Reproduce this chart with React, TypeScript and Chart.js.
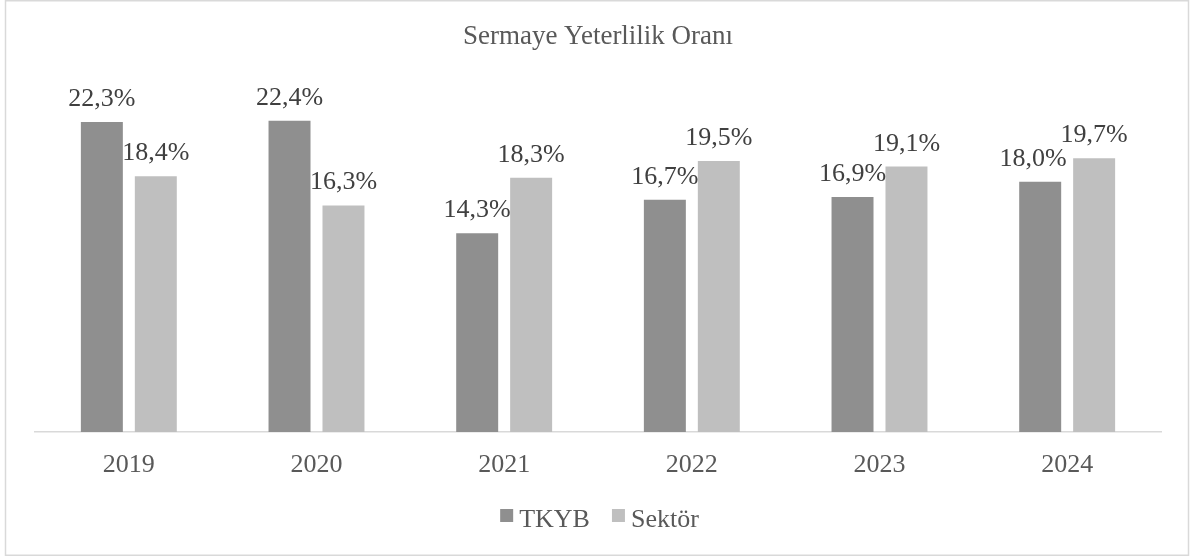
import React, { useEffect, useRef } from "react";
import { Chart, registerables } from "chart.js";

Chart.register(...registerables);

const categories: string[] = ["2019", "2020", "2021", "2022", "2023", "2024"];
const tkybValues: number[] = [22.3, 22.4, 14.3, 16.7, 16.9, 18.0];
const sektorValues: number[] = [18.4, 16.3, 18.3, 19.5, 19.1, 19.7];
const seriesNames: string[] = ["TKYB", "Sektör"];
const seriesColors: string[] = ["#8f8f8f", "#bfbfbf"];
const titleText = "Sermaye Yeterlilik Oranı";

const FONT = '"Liberation Serif", "Times New Roman", serif';

// small manual nudge of one data label (dataset-index) as in the reference
const labelNudge: Record<string, number> = { "0-5": -7 };

const fmt = (v: number) => v.toFixed(1).replace(".", ",") + "%";

const framePlugin = {
  id: "framePlugin",
  beforeDraw(chart: any) {
    const ctx = chart.ctx;
    ctx.save();
    ctx.fillStyle = "#ffffff";
    ctx.fillRect(0, 0, chart.width, chart.height);
    ctx.strokeStyle = "#d9d9d9";
    ctx.lineWidth = 1.5;
    ctx.strokeRect(5.5, 0.75, 1183, 554.5);
    ctx.restore();
  },
  afterDatasetsDraw(chart: any) {
    const ctx = chart.ctx;
    ctx.save();
    ctx.font = `26px ${FONT}`;
    ctx.fillStyle = "#404040";
    ctx.textAlign = "center";
    ctx.textBaseline = "alphabetic";
    chart.data.datasets.forEach((ds: any, i: number) => {
      const meta = chart.getDatasetMeta(i);
      meta.data.forEach((bar: any, j: number) => {
        const dx = labelNudge[`${i}-${j}`] || 0;
        ctx.fillText(fmt(ds.data[j]), bar.x + dx, bar.y - 16);
      });
    });
    ctx.restore();
  },
  afterDraw(chart: any) {
    // legend below the axis
    const ctx = chart.ctx;
    ctx.save();
    ctx.font = `26px ${FONT}`;
    ctx.textBaseline = "alphabetic";
    ctx.textAlign = "left";
    const box = 13;
    const gapBoxText = 6;
    const gapItems = 22;
    const items = chart.data.datasets.map((ds: any) => ({
      text: ds.label as string,
      color: ds.backgroundColor as string,
      w: ctx.measureText(ds.label).width,
    }));
    let total = 0;
    items.forEach((it: any, i: number) => {
      total += box + gapBoxText + it.w + (i < items.length - 1 ? gapItems : 0);
    });
    let x = 599.5 - total / 2;
    const baseline = 527;
    items.forEach((it: any) => {
      ctx.fillStyle = it.color;
      ctx.fillRect(x, baseline - 18, box, box);
      x += box + gapBoxText;
      ctx.fillStyle = "#595959";
      ctx.fillText(it.text, x, baseline);
      x += it.w + gapItems;
    });
    ctx.restore();
  },
};

export default function App() {
  const ref = useRef<HTMLCanvasElement | null>(null);
  useEffect(() => {
    if (!ref.current) return;
    const chart = new Chart(ref.current, {
      type: "bar",
      data: {
        labels: categories,
        datasets: [
          {
            label: seriesNames[0],
            data: tkybValues,
            backgroundColor: seriesColors[0],
            borderWidth: 0,
            categoryPercentage: 0.575,
            barPercentage: 0.778,
          },
          {
            label: seriesNames[1],
            data: sektorValues,
            backgroundColor: seriesColors[1],
            borderWidth: 0,
            categoryPercentage: 0.575,
            barPercentage: 0.778,
          },
        ],
      },
      options: {
        responsive: false,
        animation: false,
        devicePixelRatio: 1,
        layout: { padding: { left: 35, right: 34, top: 0, bottom: 58.8 } },
        scales: {
          x: {
            grid: { display: false, drawTicks: false },
            border: { display: true, color: "#d9d9d9", width: 1.5 },
            ticks: {
              color: "#595959",
              font: { family: FONT, size: 26 },
              padding: 18,
            },
          },
          y: {
            display: false,
            min: 0,
            max: 25,
          },
        },
        plugins: {
          title: {
            display: true,
            text: titleText,
            color: "#595959",
            font: { family: FONT, size: 27, weight: "normal" },
            padding: { top: 20.7, bottom: 31.4 },
          },
          legend: { display: false },
          tooltip: { enabled: false },
        },
      },
      plugins: [framePlugin],
    });
    return () => chart.destroy();
  }, []);
  return (
    <div style={{ position: "fixed", left: 0, top: 0, width: 1195, height: 558 }}>
      <canvas ref={ref} width={1195} height={558} />
    </div>
  );
}
